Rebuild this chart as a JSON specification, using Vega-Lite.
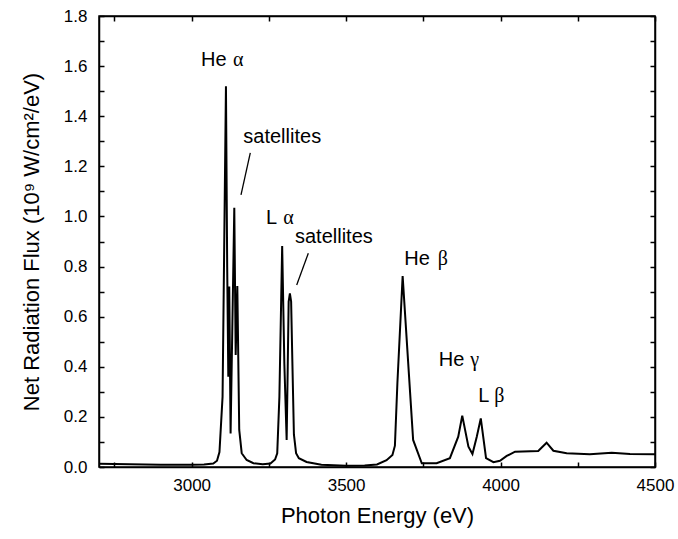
{
  "$schema": "https://vega.github.io/schema/vega-lite/v6.json",
  "width": 556,
  "height": 451,
  "autosize": {"type": "none"},
  "padding": {"left": 99, "top": 16, "right": 23, "bottom": 72},
  "background": "white",
  "config": {
    "view": {"stroke": "black", "strokeWidth": 1.5},
    "font": "Liberation Sans",
    "axis": {
      "domainColor": "black",
      "domainWidth": 1.5,
      "tickColor": "black",
      "tickWidth": 1.5,
      "grid": false,
      "labelFont": "Liberation Sans",
      "labelColor": "black",
      "labelFontSize": 17,
      "titleFont": "Liberation Sans",
      "titleColor": "black",
      "titleFontSize": 22,
      "titleFontWeight": "normal"
    }
  },
  "datasets": {
    "spectrum": [
      {"energy": 2700, "flux": 0.013},
      {"energy": 2750, "flux": 0.012},
      {"energy": 2800, "flux": 0.011},
      {"energy": 2850, "flux": 0.010},
      {"energy": 2900, "flux": 0.009},
      {"energy": 2950, "flux": 0.009},
      {"energy": 3000, "flux": 0.009},
      {"energy": 3040, "flux": 0.010},
      {"energy": 3070, "flux": 0.014},
      {"energy": 3082, "flux": 0.025},
      {"energy": 3090, "flux": 0.06},
      {"energy": 3100, "flux": 0.28},
      {"energy": 3111, "flux": 1.52},
      {"energy": 3115, "flux": 0.8},
      {"energy": 3118.6, "flux": 0.36},
      {"energy": 3121.7, "flux": 0.72},
      {"energy": 3126, "flux": 0.134},
      {"energy": 3138, "flux": 1.035},
      {"energy": 3142.5, "flux": 0.447},
      {"energy": 3147.8, "flux": 0.722},
      {"energy": 3154, "flux": 0.148},
      {"energy": 3162, "flux": 0.055},
      {"energy": 3178, "flux": 0.028},
      {"energy": 3200, "flux": 0.015},
      {"energy": 3230, "flux": 0.011},
      {"energy": 3255, "flux": 0.014},
      {"energy": 3270, "flux": 0.03},
      {"energy": 3277, "flux": 0.055},
      {"energy": 3284, "flux": 0.28},
      {"energy": 3293, "flux": 0.882},
      {"energy": 3300, "flux": 0.414},
      {"energy": 3307.5, "flux": 0.108},
      {"energy": 3311, "flux": 0.4},
      {"energy": 3314, "flux": 0.66},
      {"energy": 3318, "flux": 0.693},
      {"energy": 3322, "flux": 0.66},
      {"energy": 3326, "flux": 0.42},
      {"energy": 3331, "flux": 0.13},
      {"energy": 3338, "flux": 0.055},
      {"energy": 3347, "flux": 0.035},
      {"energy": 3372, "flux": 0.02},
      {"energy": 3420, "flux": 0.009},
      {"energy": 3500, "flux": 0.005},
      {"energy": 3560, "flux": 0.006},
      {"energy": 3600, "flux": 0.01},
      {"energy": 3631, "flux": 0.027},
      {"energy": 3650, "flux": 0.048},
      {"energy": 3658, "flux": 0.085},
      {"energy": 3666, "flux": 0.334},
      {"energy": 3683, "flux": 0.762},
      {"energy": 3717, "flux": 0.108},
      {"energy": 3745, "flux": 0.015},
      {"energy": 3793, "flux": 0.015},
      {"energy": 3836, "flux": 0.035},
      {"energy": 3863, "flux": 0.121},
      {"energy": 3876, "flux": 0.205},
      {"energy": 3896, "flux": 0.081},
      {"energy": 3909, "flux": 0.052},
      {"energy": 3923, "flux": 0.121},
      {"energy": 3936, "flux": 0.194},
      {"energy": 3953, "flux": 0.035},
      {"energy": 3977, "flux": 0.019},
      {"energy": 3998, "flux": 0.025},
      {"energy": 4020, "flux": 0.044},
      {"energy": 4047, "flux": 0.061},
      {"energy": 4122, "flux": 0.064},
      {"energy": 4149, "flux": 0.097},
      {"energy": 4171, "flux": 0.065},
      {"energy": 4214, "flux": 0.055},
      {"energy": 4289, "flux": 0.051},
      {"energy": 4360, "flux": 0.057},
      {"energy": 4419, "flux": 0.052},
      {"energy": 4500, "flux": 0.051}
    ],
    "labels": [
      {"text": "He", "energy": 3030, "flux": 1.600, "kind": "sans"},
      {"text": "satellites", "energy": 3167.2, "flux": 1.292, "kind": "sans"},
      {"text": "L", "energy": 3240.6, "flux": 0.969, "kind": "sans"},
      {"text": "satellites", "energy": 3334.5, "flux": 0.893, "kind": "sans"},
      {"text": "He", "energy": 3688, "flux": 0.806, "kind": "sans"},
      {"text": "He", "energy": 3800, "flux": 0.403, "kind": "sans"},
      {"text": "L", "energy": 3928, "flux": 0.261, "kind": "sans"},
      {"text": "α", "energy": 3133.8, "flux": 1.600, "kind": "serif"},
      {"text": "α", "energy": 3296.7, "flux": 0.969, "kind": "serif"},
      {"text": "β", "energy": 3797, "flux": 0.806, "kind": "serif"},
      {"text": "γ", "energy": 3902, "flux": 0.403, "kind": "serif"},
      {"text": "β", "energy": 3979.7, "flux": 0.261, "kind": "serif"}
    ],
    "pointers": [
      {"x1": 3189.8, "y1": 1.254, "x2": 3159.7, "y2": 1.086},
      {"x1": 3377.6, "y1": 0.853, "x2": 3340, "y2": 0.726}
    ]
  },
  "resolve": {"axis": {"x": "independent", "y": "independent"}},
  "layer": [
    {
      "data": {"name": "spectrum"},
      "mark": {"type": "line", "color": "black", "strokeWidth": 2, "clip": true},
      "encoding": {
        "x": {
          "field": "energy", "type": "quantitative",
          "scale": {"domain": [2700, 4500], "nice": false, "zero": false},
          "axis": {
            "orient": "bottom",
            "title": "Photon Energy (eV)",
            "values": [2750, 3000, 3250, 3500, 3750, 4000, 4250, 4500],
            "labelExpr": "datum.value % 500 == 0 ? format(datum.value, 'd') : ''",
            "tickSize": -5,
            "labelPadding": 15,
            "labelFlush": false,
            "labelOverlap": false,
            "titlePadding": 12
          }
        },
        "y": {
          "field": "flux", "type": "quantitative",
          "scale": {"domain": [0, 1.8], "nice": false},
          "axis": {
            "orient": "left",
            "title": "Net Radiation Flux (10⁹ W/cm²/eV)",
            "values": [0, 0.1, 0.2, 0.3, 0.4, 0.5, 0.6, 0.7, 0.8, 0.9, 1.0, 1.1, 1.2, 1.3, 1.4, 1.5, 1.6, 1.7, 1.8],
            "labelExpr": "abs(datum.value * 5 - round(datum.value * 5)) < 0.000001 ? format(datum.value, '.1f') : ''",
            "tickSize": -5,
            "labelPadding": 17,
            "labelFlush": false,
            "labelOverlap": false,
            "titlePadding": 20
          }
        }
      }
    },
    {
      "data": {"name": "spectrum"},
      "mark": {"type": "line", "opacity": 0},
      "encoding": {
        "x": {
          "field": "energy", "type": "quantitative",
          "axis": {
            "orient": "top", "title": null, "labels": false,
            "values": [2750, 3000, 3250, 3500, 3750, 4000, 4250, 4500],
            "tickSize": -5
          }
        },
        "y": {
          "field": "flux", "type": "quantitative",
          "axis": {
            "orient": "right", "title": null, "labels": false,
            "values": [0, 0.1, 0.2, 0.3, 0.4, 0.5, 0.6, 0.7, 0.8, 0.9, 1.0, 1.1, 1.2, 1.3, 1.4, 1.5, 1.6, 1.7, 1.8],
            "tickSize": -5
          }
        }
      }
    },
    {
      "data": {"name": "labels"},
      "transform": [{"filter": "datum.kind == 'sans'"}],
      "mark": {"type": "text", "align": "left", "baseline": "alphabetic", "font": "Liberation Sans", "fontSize": 20, "color": "black"},
      "encoding": {
        "x": {"field": "energy", "type": "quantitative", "axis": null},
        "y": {"field": "flux", "type": "quantitative", "axis": null},
        "text": {"field": "text"}
      }
    },
    {
      "data": {"name": "labels"},
      "transform": [{"filter": "datum.kind == 'serif'"}],
      "mark": {"type": "text", "align": "left", "baseline": "alphabetic", "font": "Liberation Serif", "fontSize": 20, "color": "black"},
      "encoding": {
        "x": {"field": "energy", "type": "quantitative", "axis": null},
        "y": {"field": "flux", "type": "quantitative", "axis": null},
        "text": {"field": "text"}
      }
    },
    {
      "data": {"name": "pointers"},
      "mark": {"type": "rule", "color": "black", "strokeWidth": 1.3},
      "encoding": {
        "x": {"field": "x1", "type": "quantitative", "axis": null},
        "y": {"field": "y1", "type": "quantitative", "axis": null},
        "x2": {"field": "x2"},
        "y2": {"field": "y2"}
      }
    }
  ]
}
